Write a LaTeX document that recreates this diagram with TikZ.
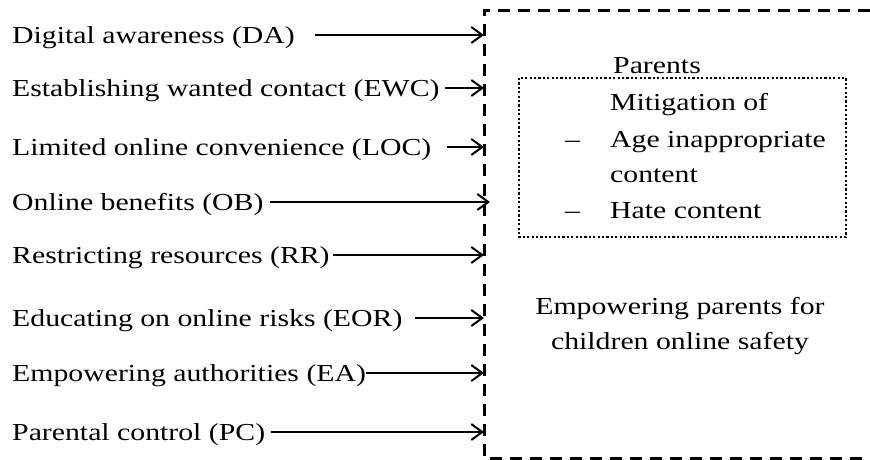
\documentclass[tikz,border=0pt]{standalone}
\usepackage{fontspec}
\setmainfont[FakeStretch=1.22]{Liberation Serif}
\usetikzlibrary{arrows.meta}
\begin{document}
\begin{tikzpicture}[x=1pt,y=-1pt,
  txt/.style={anchor=base west, inner sep=0pt, font=\fontsize{24.4}{35}\selectfont},
  feed/.style={line width=2pt, -{Straight Barb[length=11pt,width=16pt]}},
  outerbox/.style={line width=3pt, dash pattern=on 12pt off 8pt},
  innerbox/.style={line width=2.5pt, dash pattern=on 2.2pt off 2.2pt}]
\useasboundingbox (0,0) rectangle (870,459);
\clip (0,0) rectangle (870,459);

% enclosing dashed frame (open towards the right edge)
\draw[outerbox] (870,10) -- (484,10) -- (484,458) -- (870,458);

% factors on the left
\node[txt] (DA)  at (12,43)  {Digital awareness (DA)};
\node[txt] (EWC) at (12,96)  {Establishing wanted contact (EWC)};
\node[txt] (LOC) at (12,155) {Limited online convenience (LOC)};
\node[txt] (OB)  at (12,210) {Online benefits (OB)};
\node[txt] (RR)  at (12,263) {Restricting resources (RR)};
\node[txt] (EOR) at (12,326) {Educating on online risks (EOR)};
\node[txt] (EA)  at (12,381) {Empowering authorities (EA)};
\node[txt] (PC)  at (12,440) {Parental control (PC)};

% arrow start and end points
\coordinate (DAs)  at (315,35);  \coordinate (DAe)  at (484,35);
\coordinate (EWCs) at (445,88);  \coordinate (EWCe) at (484,88);
\coordinate (LOCs) at (447,147); \coordinate (LOCe) at (484,147);
\coordinate (OBs)  at (270,202); \coordinate (OBe)  at (490,202);
\coordinate (RRs)  at (333,255); \coordinate (RRe)  at (484,255);
\coordinate (EORs) at (415,318); \coordinate (EORe) at (484,318);
\coordinate (EAs)  at (366,373); \coordinate (EAe)  at (484,373);
\coordinate (PCs)  at (271,432); \coordinate (PCe)  at (484,432);

\foreach \k in {DA,EWC,LOC,OB,RR,EOR,EA,PC}
  \draw[feed] (\k s) -- (\k e);

% parents block
\node[txt] (par) at (613,73) {Parents};
\draw[innerbox] (519,78) rectangle (846,237);
\node[txt] (mit)  at (610,110) {Mitigation of};
\node[txt] (d1)   at (565,147) {–};
\node[txt] (age)  at (610,147) {Age inappropriate};
\node[txt] (cont) at (610,182) {content};
\node[txt] (d2)   at (565,218) {–};
\node[txt] (hate) at (610,218) {Hate content};

% outcome
\node[inner sep=0pt, align=center, font=\fontsize{24.4}{35}\selectfont] (out) at (680,326)
  {Empowering parents for\\children online safety};
\end{tikzpicture}
\end{document}
